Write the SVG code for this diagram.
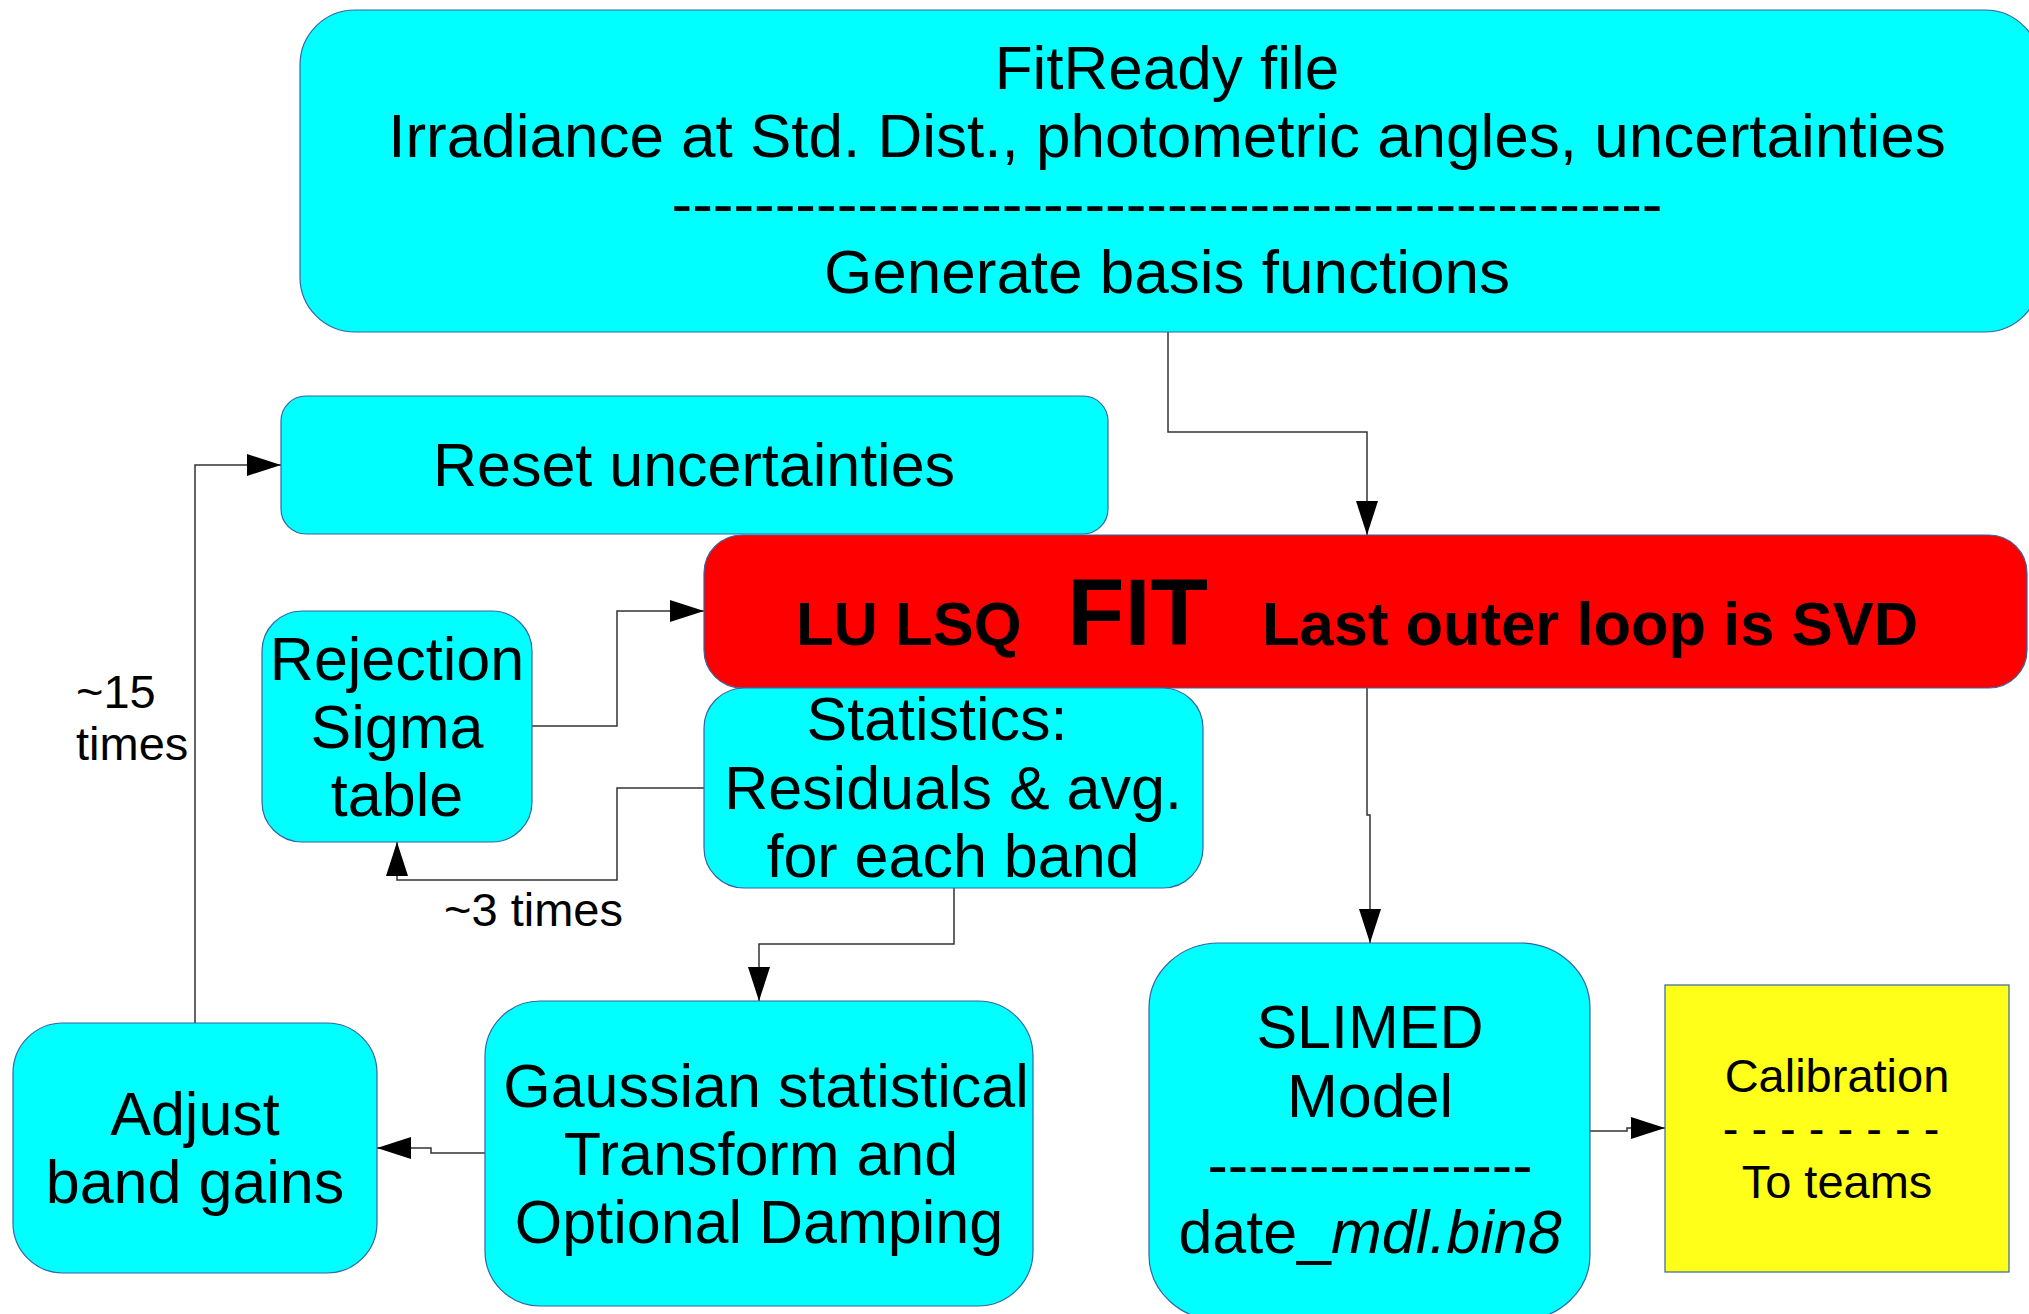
<svg xmlns="http://www.w3.org/2000/svg" width="2029" height="1314" viewBox="0 0 2029 1314">
<style>
.box{fill:#00ffff;stroke:#3465a4;stroke-width:1.2}
.red{fill:#ff0000;stroke:#3465a4;stroke-width:1.2}
.yel{fill:#ffff1a;stroke:#3465a4;stroke-width:1.2}
text{font-family:"Liberation Sans",Arial,sans-serif;fill:#000}
.t{font-size:61px;text-anchor:middle}
.top{font-size:62px}
.s{font-size:47px}
.b{font-weight:bold}
.c{fill:none;stroke:#333;stroke-width:1.5}
</style>
<defs>
<marker id="ah" markerUnits="userSpaceOnUse" markerWidth="34" markerHeight="22" refX="34" refY="11" orient="auto">
<path d="M0,0 L34,11 L0,22 z" fill="#000"/>
</marker>
</defs>
<g id="connectors">
<path class="c" d="M1168,332 V432 H1367 V535" marker-end="url(#ah)"/>
<path class="c" d="M195,1023 V465 H281" marker-end="url(#ah)"/>
<path class="c" d="M532,726 H617 V611 H704" marker-end="url(#ah)"/>
<path class="c" d="M704,788 H617 V880 H397 V842" marker-end="url(#ah)"/>
<path class="c" d="M1367,688 V815 H1370 V943" marker-end="url(#ah)"/>
<path class="c" d="M954,888 V944 H759 V1001" marker-end="url(#ah)"/>
<path class="c" d="M485,1153 H431 V1148 H377" marker-end="url(#ah)"/>
<path class="c" d="M1590,1131 H1627 V1128 H1665" marker-end="url(#ah)"/>
</g>
<g id="fitready">
<rect class="box" x="300" y="10" width="1740" height="322" rx="55" ry="55"/>
<text class="t top" x="1167" y="89">FitReady file</text>
<text class="t top" x="1167" y="157">Irradiance at Std. Dist., photometric angles, uncertainties</text>
<text class="t top" x="1167" y="225">------------------------------------------------</text>
<text class="t top" x="1167" y="293">Generate basis functions</text>
</g>
<g id="reset">
<rect class="box" x="281" y="396" width="827" height="138" rx="25" ry="25"/>
<text class="t" x="694" y="486">Reset uncertainties</text>
</g>
<g id="fit">
<rect class="red" x="704" y="535" width="1323" height="153" rx="38" ry="38"/>
<text class="b" font-size="61.5" x="796" y="645">LU LSQ</text>
<text class="b" font-size="94" x="1067" y="645">FIT</text>
<text class="b" font-size="61.5" x="1262" y="645">Last outer loop is SVD</text>
</g>
<g id="rejection">
<rect class="box" x="262" y="611" width="270" height="231" rx="40" ry="40"/>
<text class="t" x="397" y="680">Rejection</text>
<text class="t" x="397" y="748">Sigma</text>
<text class="t" x="397" y="816">table</text>
</g>
<g id="statistics">
<rect class="box" x="704" y="688" width="499" height="200" rx="40" ry="40"/>
<text class="t" x="937" y="740">Statistics:</text>
<text class="t" x="953" y="809">Residuals &amp; avg.</text>
<text class="t" x="953" y="877">for each band</text>
</g>
<g id="labels">
<text class="s" x="76" y="708">~15</text>
<text class="s" x="76" y="760">times</text>
<text class="s" font-size="47.8" x="444" y="926">~3 times</text>
</g>
<g id="gaussian">
<rect class="box" x="485" y="1001" width="548" height="305" rx="55" ry="55"/>
<text class="t" x="766" y="1107">Gaussian statistical</text>
<text class="t" x="761" y="1175">Transform and</text>
<text class="t" x="759" y="1243">Optional Damping</text>
</g>
<g id="adjust">
<rect class="box" x="13" y="1023" width="364" height="250" rx="50" ry="50"/>
<text class="t" x="195" y="1135">Adjust</text>
<text class="t" x="195" y="1203">band gains</text>
</g>
<g id="slimed">
<rect class="box" x="1149" y="943" width="441" height="377" rx="70" ry="65"/>
<text class="t" x="1370" y="1048">SLIMED</text>
<text class="t" x="1370" y="1117">Model</text>
<text class="t" x="1370" y="1186">----------------</text>
<text class="t" x="1370" y="1253">date_<tspan font-style="italic">mdl.bin8</tspan></text>
</g>
<g id="calibration">
<rect class="yel" x="1665" y="985" width="344" height="287"/>
<text class="s" text-anchor="middle" x="1837" y="1092">Calibration</text>
<text class="s" text-anchor="middle" x="1831" y="1145">- - - - - - - -</text>
<text class="s" text-anchor="middle" x="1837" y="1198">To teams</text>
</g>
</svg>
